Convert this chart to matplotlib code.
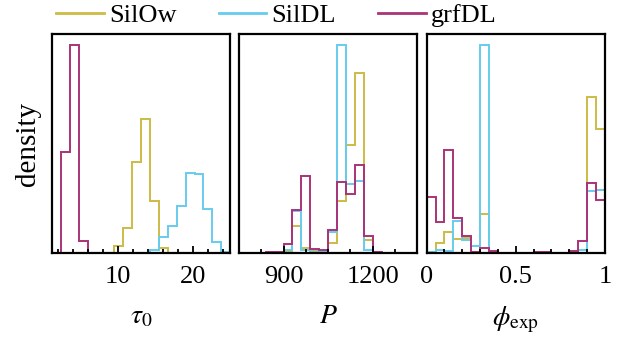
import numpy as np
import matplotlib
matplotlib.use("Agg")
import matplotlib.pyplot as plt
from matplotlib.ticker import MultipleLocator, NullLocator

plt.rcParams['font.family'] = ['Liberation Serif', 'DejaVu Serif']
plt.rcParams['mathtext.fontset'] = 'stix'

# series names and colours
names = ['SilOw', 'SilDL', 'grfDL']
colors = ['#CCBB44', '#66CCEE', '#AA3377']

# tau_0 panel: 20 bins over the axis range
tau_range = (1.16, 24.9)
tau_silow = [0, 0, 0, 0, 0, 0, 0, 0.032, 0.116, 0.417, 0.61, 0.239, 0.024, 0, 0, 0, 0, 0, 0, 0]
tau_sildl = [0, 0, 0, 0, 0, 0, 0, 0, 0, 0, 0, 0.014, 0.075, 0.123, 0.215, 0.364, 0.361, 0.2, 0.05, 0.006]
tau_grfdl = [0, 0.46, 0.95, 0.053, 0, 0, 0, 0, 0, 0, 0, 0, 0, 0, 0, 0, 0, 0, 0, 0]

# P panel
p_range = (750, 1350)
p_silow = [0, 0, 0, 0, 0.002, 0.01, 0.123, 0.024, 0.014, 0.01, 0.048, 0.24, 0.493, 0.823, 0.062, 0, 0, 0, 0, 0]
p_sildl = [0, 0, 0, 0, 0.003, 0.014, 0.19, 0.014, 0.006, 0.006, 0.097, 0.95, 0.315, 0.33, 0.012, 0, 0, 0, 0, 0]
p_grfdl = [0, 0, 0, 0.003, 0.006, 0.04, 0.196, 0.353, 0.018, 0.016, 0.105, 0.323, 0.27, 0.40, 0.079, 0.003, 0, 0, 0, 0]

# phi_exp panel
phi_range = (0, 1)
phi_silow = [0.006, 0.047, 0.097, 0.064, 0.07, 0.006, 0.177, 0, 0, 0, 0, 0, 0, 0, 0, 0, 0, 0, 0.714, 0.565]
phi_sildl = [0.006, 0.012, 0.01, 0.146, 0.059, 0.032, 0.95, 0.002, 0, 0, 0, 0, 0, 0, 0, 0, 0, 0.014, 0.283, 0.288]
phi_grfdl = [0.254, 0.14, 0.47, 0.158, 0.079, 0.005, 0.021, 0.009, 0, 0, 0, 0, 0.003, 0.003, 0, 0, 0.01, 0.056, 0.32, 0.242]

panels = [
    (tau_range, [tau_silow, tau_sildl, tau_grfdl], r'$\tau_0$', 10, 2),
    (p_range, [p_silow, p_sildl, p_grfdl], r'$P$', 300, 75),
    (phi_range, [phi_silow, phi_sildl, phi_grfdl], r'$\phi_{\rm exp}$', 0.5, 0.1),
]

fig = plt.figure(figsize=(6.34, 3.37), dpi=100)
lefts = [0.082, 0.377, 0.673]
width = 0.281
bottom, height = 0.249, 0.650

for i, (xr, series, xlabel, major, minor) in enumerate(panels):
    ax = fig.add_axes([lefts[i], bottom, width, height])
    edges = np.linspace(xr[0], xr[1], 21)
    for vals, name, c in zip(series, names, colors):
        ax.stairs(vals, edges, baseline=0, color=c, lw=1.4, label=name)
    ax.set_xlim(*xr)
    ax.set_ylim(0, 1)
    ax.xaxis.set_major_locator(MultipleLocator(major))
    ax.xaxis.set_minor_locator(MultipleLocator(minor))
    ax.yaxis.set_major_locator(NullLocator())
    ax.tick_params(axis='x', which='both', direction='in', labelsize=19, width=1.3, pad=9)
    ax.tick_params(axis='x', which='major', length=5)
    ax.tick_params(axis='x', which='minor', length=3)
    for s in ax.spines.values():
        s.set_linewidth(1.6)
    ax.set_xlabel(xlabel, fontsize=20, labelpad=12)
    if i == 2:
        ax.set_xticks([0, 0.5, 1])
        ax.set_xticklabels(['0', '0.5', '1'])
    if i == 0:
        ax.set_ylabel('density', fontsize=21, labelpad=8)

leg_handles = [plt.Line2D([], [], color=c, lw=2) for c in colors]
fig.legend(leg_handles, names, loc='center', bbox_to_anchor=(0.436, 0.955), ncol=3,
           frameon=False, fontsize=19, handlelength=1.8, handletextpad=0.2,
           columnspacing=1.6, borderaxespad=0)

fig.savefig('out.png', dpi=100)
